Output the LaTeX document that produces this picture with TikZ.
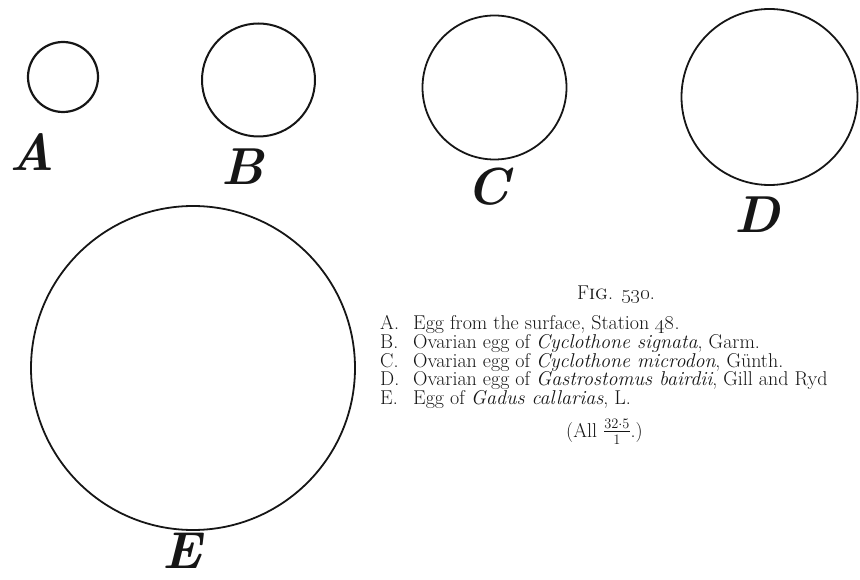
\documentclass[tikz,border=0pt]{standalone}
\usepackage{amsmath}
\usepackage{tikz}
\definecolor{eggink}{RGB}{22,22,22}
\newcommand{\eggline}[2]{\makebox[33pt][l]{#1.}#2}
\begin{document}
\begin{tikzpicture}[x=1pt,y=-1pt,
  egg/.style={draw=eggink,circle,line width=1.8pt,inner sep=0pt},
  eggletter/.style={eggink,font=\fontsize{52}{52}\selectfont\bfseries\itshape,inner sep=0pt},
  caption/.style={eggink,font=\fontsize{20}{18}\selectfont,anchor=base west,inner sep=0pt}]
  \useasboundingbox (0,0) rectangle (860,580);
  % the eggs
  \node[egg,minimum size=70pt,line width=2.2pt] (eggA) at (63,77) {};
  \node[egg,minimum size=113pt,line width=2pt] (eggB) at (258.5,80) {};
  \node[egg,minimum size=144pt] (eggC) at (494.5,87.5) {};
  \node[egg,minimum size=176pt] (eggD) at (769.5,97) {};
  \node[egg,minimum size=324pt] (eggE) at (193,368) {};
  % their letters
  \node[eggletter] (labA) at (32,152) {A};
  \node[eggletter] (labB) at (243,167) {B};
  \node[eggletter] (labC) at (488,187) {C};
  \node[eggletter] (labD) at (757,215) {D};
  \node[eggletter] (labE) at (182,551) {E};
  % legend
  \node[caption,anchor=base] (fig) at (616,300) {F\textsc{ig}. \oldstylenums{530}.};
  \node[caption] (capA) at (380,330) {\eggline{A}{Egg from the surface, Station \oldstylenums{48}.}};
  \node[caption] (capB) at (380,348.5) {\eggline{B}{Ovarian egg of \textit{Cyclothone signata}, Garm.}};
  \node[caption] (capC) at (380,367) {\eggline{C}{Ovarian egg of \textit{Cyclothone microdon}, G\"unth.}};
  \node[caption] (capD) at (380,385.5) {\eggline{D}{Ovarian egg of \textit{Gastrostomus bairdii}, Gill and Ryd}};
  \node[caption] (capE) at (380,404) {\eggline{E}{Egg of \textit{Gadus callarias}, L.}};
  \node[caption] (scale) at (566,437) {(All $\frac{32\cdot5}{1}$.)};
\end{tikzpicture}
\end{document}
